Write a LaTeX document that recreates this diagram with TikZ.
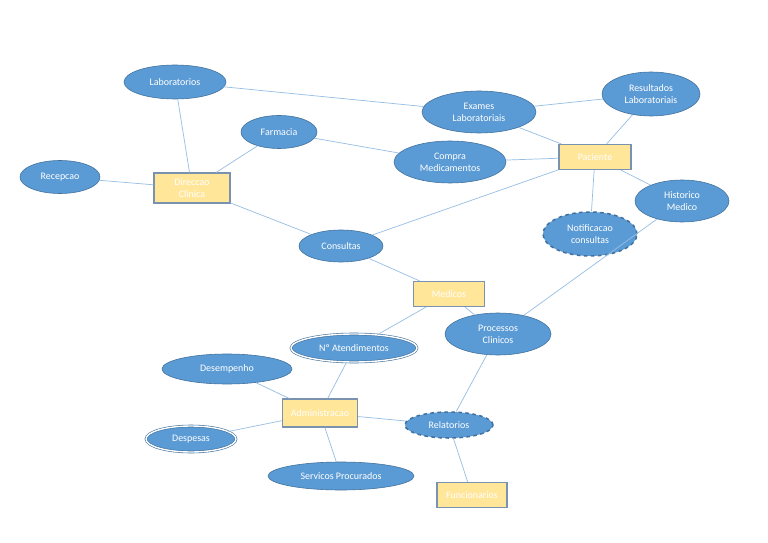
\documentclass[tikz,border=0pt]{standalone}
\usepackage{fontspec}
\setmainfont{Carlito}
\usetikzlibrary{shapes.geometric}
\definecolor{attfill}{HTML}{5B9BD5}
\definecolor{attline}{HTML}{41719C}
\definecolor{entfill}{HTML}{FFE699}
\definecolor{entline}{RGB}{120,146,176}
\definecolor{linkcol}{RGB}{150,190,228}
\tikzset{
  att/.style={ellipse,fill=attfill,draw=attline,line width=0.5pt,text=white,
    inner sep=0pt,align=center,font=\fontsize{8.5}{10.5}\selectfont},
  dashatt/.style={att,dashed,line width=1.3pt},
  dblatt/.style={att,double=white,double distance=1.2pt,line width=0.5pt},
  ent/.style={rectangle,fill=entfill,draw=entline,line width=0.9pt,text=white,
    inner sep=0pt,align=center,font=\fontsize{8.5}{10}\selectfont},
  link/.style={draw=linkcol,line width=0.6pt}
}
\begin{document}
\begin{tikzpicture}[x=0.03cm,y=-0.03cm]
        \useasboundingbox[fill=white] (0,0) rectangle (768,543);
        \node[att,minimum width=3.06cm,minimum height=1.02cm] (lab) at (175,82) {Laboratorios};
        \node[att,minimum width=2.28cm,minimum height=0.99cm] (farm) at (279,132) {Farmacia};
        \node[att,minimum width=2.4cm,minimum height=0.99cm] (rec) at (60,177) {Recepcao};
        \node[ent,minimum width=2.28cm,minimum height=0.9cm] (dir) at (192,188) {Direccao\\Clinica};
        \node[att,minimum width=3.42cm,minimum height=1.26cm] (exam) at (479,112) {Exames\\Laboratoriais};
        \node[att,minimum width=2.94cm,minimum height=1.32cm] (res) at (651,94) {Resultados\\Laboratoriais};
        \node[att,minimum width=3.36cm,minimum height=1.26cm] (comp) at (450,162) {Compra\\Medicamentos};
        \node[ent,minimum width=2.16cm,minimum height=0.75cm] (pac) at (595,157) {Paciente};
        \node[att,minimum width=2.82cm,minimum height=1.26cm] (hist) at (682,201) {Historico\\Medico};
        \node[dashatt,minimum width=2.82cm,minimum height=1.32cm] (notif) at (590,234) {Notificacao\\consultas};
        \node[att,minimum width=2.52cm,minimum height=0.96cm] (cons) at (341,246) {Consultas};
        \node[ent,minimum width=2.13cm,minimum height=0.75cm] (med) at (449,294) {Medicos};
        \node[att,minimum width=3.18cm,minimum height=1.26cm] (proc) at (498,334) {Processos\\Clinicos};
        \node[dblatt,minimum width=3.78cm,minimum height=0.84cm] (aten) at (354,348) {Nº Atendimentos};
        \node[att,minimum width=3.9cm,minimum height=0.9cm] (desemp) at (227,369) {Desempenho};
        \node[ent,minimum width=2.25cm,minimum height=0.84cm] (adm) at (320,413) {Administracao};
        \node[dblatt,minimum width=2.7cm,minimum height=0.78cm] (desp) at (191,439) {Despesas};
        \node[dashatt,minimum width=2.64cm,minimum height=0.78cm] (rel) at (449,425) {Relatorios};
        \node[att,minimum width=4.38cm,minimum height=0.84cm] (serv) at (341,476) {Servicos Procurados};
        \node[ent,minimum width=2.1cm,minimum height=0.75cm] (func) at (472,495) {Funcionarios};
        \draw[link] (lab) -- (dir);
        \draw[link] (lab) -- (exam);
        \draw[link] (farm) -- (dir);
        \draw[link] (farm) -- (comp);
        \draw[link] (rec) -- (dir);
        \draw[link] (dir) -- (cons);
        \draw[link] (exam) -- (res);
        \draw[link] (exam) -- (pac);
        \draw[link] (comp) -- (pac);
        \draw[link] (res) -- (pac);
        \draw[link] (pac) -- (hist);
        \draw[link] (pac) -- (notif);
        \draw[link] (pac) -- (cons);
        \draw[link] (cons) -- (med);
        \draw[link] (med) -- (aten);
        \draw[link] (med) -- (proc);
        \draw[link] (hist) -- (proc);
        \draw[link] (proc) -- (rel);
        \draw[link] (aten) -- (adm);
        \draw[link] (desemp) -- (adm);
        \draw[link] (desp) -- (adm);
        \draw[link] (serv) -- (adm);
        \draw[link] (adm) -- (rel);
        \draw[link] (rel) -- (func);
    \end{tikzpicture}
\end{document}
